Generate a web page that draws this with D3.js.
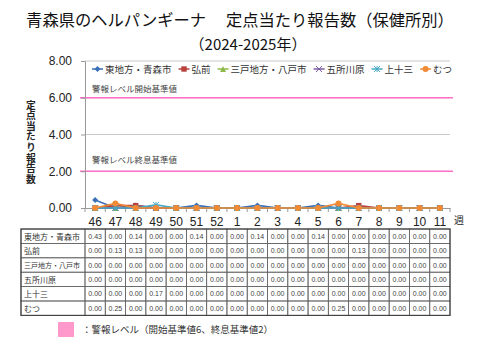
<!DOCTYPE html>
<html>
<head>
<meta charset="utf-8">
<script src="https://cdn.jsdelivr.net/npm/d3@7"></script>
<style>
  body { margin: 0; background: #fff; }
  svg { display: block; font-family: "Noto Sans CJK JP", "Noto Sans", sans-serif; }
</style>
</head>
<body>
<div id="chart"></div>
<script>
/* DATA */
const weeks = ["46","47","48","49","50","51","52","1","2","3","4","5","6","7","8","9","10","11"];
const regions = ["東地方・青森市","弘前","三戸地方・八戸市","五所川原","上十三","むつ"];
const aomori   = [0.43,0,0.14,0,0,0.14,0,0,0.14,0,0,0.14,0,0,0,0,0,0];
const hirosaki = [0,0.13,0.13,0,0,0,0,0,0,0,0,0,0,0.13,0,0,0,0];
const hachinohe= [0,0,0,0,0,0,0,0,0,0,0,0,0,0,0,0,0,0];
const goshogawara=[0,0,0,0,0,0,0,0,0,0,0,0,0,0,0,0,0,0];
const kamitosan= [0,0,0,0.17,0,0,0,0,0,0,0,0,0,0,0,0,0,0];
const mutsu    = [0,0.25,0,0,0,0,0,0,0,0,0,0,0.25,0,0,0,0,0];
const seriesValues = [aomori, hirosaki, hachinohe, goshogawara, kamitosan, mutsu];
const yTicks = [0,2,4,6,8];
const alertStart = 6, alertEnd = 2;

/* LAYOUT */
const W = 480, H = 360;
const plot = {left: 85, right: 450, top: 61, bottom: 208};
const colors = ["#3b6fb6","#b8413d","#8db84a","#7a5ea0","#45a8c4","#f08a35"];
const markers = ["diamond","square","triangle","cross","star","circle"];

const svg = d3.select("#chart").append("svg").attr("width", W).attr("height", H);

// title
svg.append("text").attr("x", 240).attr("y", 26).attr("text-anchor", "middle")
  .attr("font-size", 16.3).attr("fill", "#111")
  .text("青森県のヘルパンギーナ　  定点当たり報告数（保健所別）");
svg.append("text").attr("x", 248).attr("y", 50).attr("text-anchor", "middle")
  .attr("font-size", 15).attr("fill", "#111")
  .text("（2024-2025年）");

// scales
const x = d3.scaleBand().domain(weeks).range([plot.left, plot.right]);
const y = d3.scaleLinear().domain([0, 8]).range([plot.bottom, plot.top]);

// gridlines
svg.append("g").selectAll("line").data(yTicks.filter(d => d > 0))
  .join("line")
  .attr("x1", plot.left).attr("x2", plot.right)
  .attr("y1", d => y(d)).attr("y2", d => y(d))
  .attr("stroke", "#c8c8c8").attr("stroke-width", 1);

// alert lines
svg.append("g").selectAll("line").data([alertStart, alertEnd])
  .join("line")
  .attr("x1", plot.left - 5).attr("x2", plot.right + 3)
  .attr("y1", d => y(d)).attr("y2", d => y(d))
  .attr("stroke", "#ff6ec7").attr("stroke-width", 1.5);

svg.append("text").attr("x", 92).attr("y", y(alertStart) - 6)
  .attr("font-size", 8.5).attr("fill", "#444").text("警報レベル開始基準値");
svg.append("text").attr("x", 92).attr("y", y(alertEnd) - 8)
  .attr("font-size", 8.5).attr("fill", "#444").text("警報レベル終息基準値");

// y axis
const yAxis = d3.axisLeft(y).tickValues(yTicks).tickFormat(d3.format(".2f")).tickSize(4).tickPadding(9);
const gy = svg.append("g").attr("transform", `translate(${plot.left},0)`).call(yAxis);
gy.select(".domain").attr("stroke", "#999");
gy.selectAll(".tick line").attr("stroke", "#999");
gy.selectAll("text").attr("font-size", 12).attr("fill", "#222")
  .attr("font-family", "Liberation Sans, Arial, sans-serif");

// y title (vertical, one text)
svg.append("text")
  .attr("x", 31).attr("y", 100)
  .style("writing-mode", "vertical-rl")
  .style("letter-spacing", "0.8px")
  .attr("font-size", 9.8).attr("font-weight", "bold")
  .attr("fill", "#222").text("定点当たり報告数");

// x axis
const xAxis = d3.axisBottom(x).tickSize(0).tickPadding(9);
const gx = svg.append("g").attr("transform", `translate(0,${plot.bottom})`).call(xAxis);
gx.select(".domain").attr("stroke", "#999");
gx.selectAll("text").attr("font-size", 12).attr("fill", "#222")
  .attr("font-family", "Liberation Sans, Arial, sans-serif");
svg.append("g").selectAll("line").data(weeks.concat(["end"]))
  .join("line")
  .attr("x1", (d, i) => plot.left + i * x.bandwidth())
  .attr("x2", (d, i) => plot.left + i * x.bandwidth())
  .attr("y1", plot.bottom).attr("y2", plot.bottom + 4)
  .attr("stroke", "#999");
svg.append("text").attr("x", 454).attr("y", 224).attr("font-size", 10).attr("fill", "#222").text("週");

// marker drawing
function drawMarker(g, type, color) {
  const s = 3;
  if (type === "diamond") g.append("path").attr("d", `M0,${-s}L${s},0L0,${s}L${-s},0Z`).attr("fill", color);
  else if (type === "square") g.append("rect").attr("x", -s + 0.3).attr("y", -s + 0.3).attr("width", 2 * s - 0.6).attr("height", 2 * s - 0.6).attr("fill", color);
  else if (type === "triangle") g.append("path").attr("d", `M0,${-s}L${s},${s}L${-s},${s}Z`).attr("fill", color);
  else if (type === "cross") g.append("path").attr("d", `M${-s},${-s}L${s},${s}M${-s},${s}L${s},${-s}`).attr("stroke", color).attr("stroke-width", 1);
  else if (type === "star") g.append("path").attr("d", `M${-s},${-s}L${s},${s}M${-s},${s}L${s},${-s}M0,${-s}L0,${s}`).attr("stroke", color).attr("stroke-width", 1);
  else g.append("circle").attr("r", s).attr("fill", color);
}

// series
const line = d3.line().x((d, i) => x(weeks[i]) + x.bandwidth() / 2).y(d => y(d));
seriesValues.forEach((vals, k) => {
  const g = svg.append("g");
  g.append("path").datum(vals).attr("d", line)
    .attr("fill", "none").attr("stroke", colors[k]).attr("stroke-width", 1.6);
  vals.forEach((v, i) => {
    const m = g.append("g").attr("transform", `translate(${x(weeks[i]) + x.bandwidth() / 2},${y(v)})`);
    drawMarker(m, markers[k], colors[k]);
  });
});

// legend
const legend = svg.append("g").attr("transform", "translate(92,69)");
let lx = 0;
regions.forEach((r, k) => {
  const item = legend.append("g").attr("transform", `translate(${lx},0)`);
  item.append("line").attr("x1", 0).attr("x2", 11).attr("stroke", colors[k]).attr("stroke-width", 1.5);
  drawMarker(item.append("g").attr("transform", "translate(5.5,0)"), markers[k], colors[k]);
  const t = item.append("text").attr("x", 13).attr("y", 3.5).attr("font-size", 9.5).attr("fill", "#333").text(r);
  lx += 13 + t.node().getComputedTextLength() + 7;
});

// table
const table = {left: 21, top: 229, rowH: 14.4};
const tg = svg.append("g");
regions.forEach((r, k) => {
  const ry = table.top + k * table.rowH;
  tg.append("rect").attr("x", table.left).attr("y", ry)
    .attr("width", plot.left - table.left).attr("height", table.rowH)
    .attr("fill", "none").attr("stroke", "#666").attr("stroke-width", 0.8);
  tg.append("text").attr("x", table.left + 3).attr("y", ry + table.rowH / 2 + 3.3)
    .attr("font-size", k === 2 ? 7 : 8).attr("fill", "#333").text(r);
  seriesValues[k].forEach((v, i) => {
    tg.append("rect").attr("x", x(weeks[i])).attr("y", ry)
      .attr("width", x.bandwidth()).attr("height", table.rowH)
      .attr("fill", "none").attr("stroke", "#666").attr("stroke-width", 0.8);
    tg.append("text").attr("x", x(weeks[i]) + x.bandwidth() / 2).attr("y", ry + table.rowH / 2 + 2.5)
      .attr("text-anchor", "middle").attr("font-size", 7).attr("fill", "#444")
      .attr("font-family", "Liberation Sans, Arial, sans-serif")
      .text(d3.format(".2f")(v));
  });
});
tg.append("rect").attr("x", table.left).attr("y", table.top)
  .attr("width", plot.right - table.left).attr("height", table.rowH * regions.length)
  .attr("fill", "none").attr("stroke", "#444").attr("stroke-width", 1.2);

// bottom key
svg.append("rect").attr("x", 58).attr("y", 322).attr("width", 16).attr("height", 15).attr("fill", "#ff99cc");
svg.append("text").attr("x", 82).attr("y", 333).attr("font-size", 9.5).attr("fill", "#333")
  .text("：警報レベル（開始基準値6、終息基準値2）");
</script>
</body>
</html>
